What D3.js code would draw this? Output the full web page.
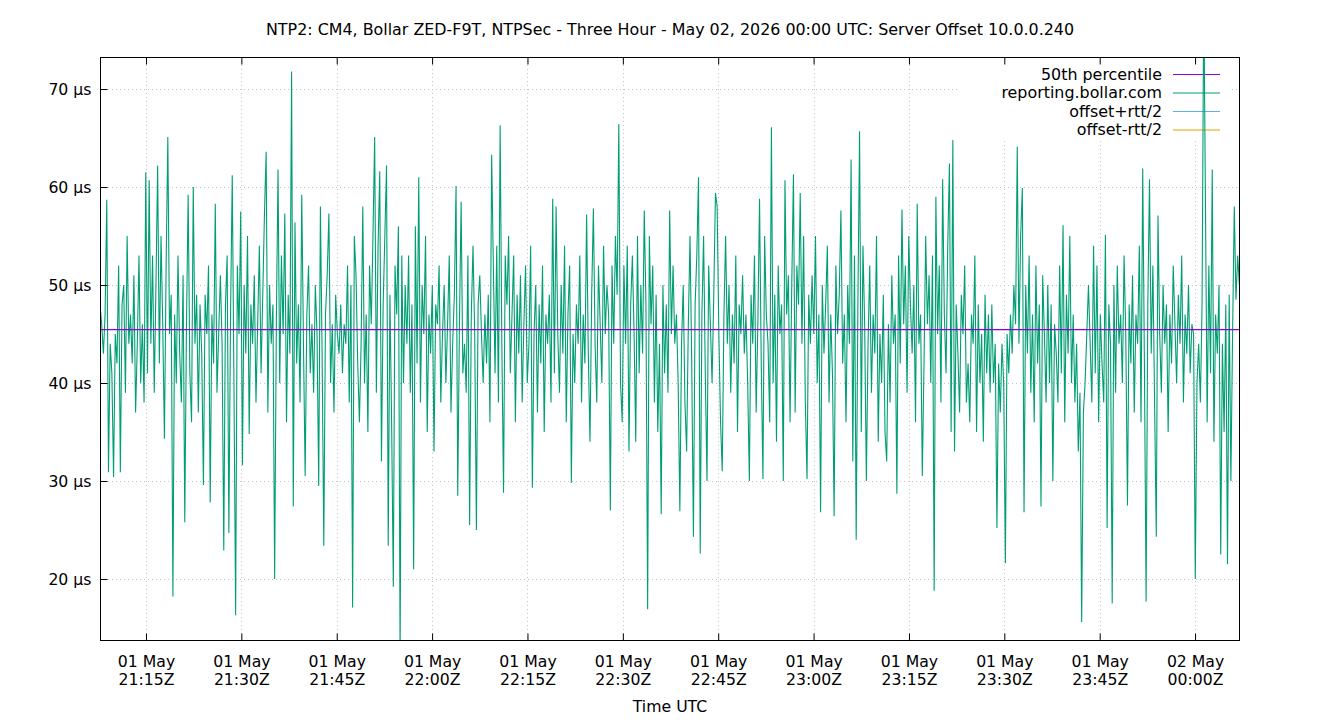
<!DOCTYPE html>
<html>
<head>
<meta charset="utf-8">
<script src="https://cdn.jsdelivr.net/npm/d3@7"></script>
<style>
  html, body { margin: 0; padding: 0; background: #fff; }
  svg text { font-family: "DejaVu Sans", sans-serif; fill: #000; }
</style>
</head>
<body>
<svg id="chart" width="1340" height="720"></svg>
<script>
// ---------- data ----------
const titleText = "NTP2: CM4, Bollar ZED-F9T, NTPSec - Three Hour - May 02, 2026 00:00 UTC: Server Offset 10.0.0.240";
const xAxisTitle = "Time UTC";
const startTime = "2026-05-01T21:07:46Z";
const endTime = "2026-05-02T00:07:04Z";
const sampleSeconds = 16;
const yTickValues = [20, 30, 40, 50, 60, 70];
const xTickTimes = ["2026-05-01T21:15:00Z","2026-05-01T21:30:00Z","2026-05-01T21:45:00Z","2026-05-01T22:00:00Z",
  "2026-05-01T22:15:00Z","2026-05-01T22:30:00Z","2026-05-01T22:45:00Z","2026-05-01T23:00:00Z",
  "2026-05-01T23:15:00Z","2026-05-01T23:30:00Z","2026-05-01T23:45:00Z","2026-05-02T00:00:00Z"];
const legendNames = ["50th percentile", "reporting.bollar.com", "offset+rtt/2", "offset-rtt/2"];
const legendColors = ["#9400d3", "#009e73", "#56b4e9", "#e69f00"];
const median50 = 45.45;
const yDomain = [13.67, 73.27];
// offset values (µs), one every sampleSeconds
const offsetValues = [
48,46,43,47,58.7,30.9,44,41,30.4,45,42,52,30.9,48,50,39,55,44,47,42,
51,37,44,53,40,46,38,61.5,41,60.7,44,53,39,50,62.2,42,55,46,34.3,52,
65.1,45,49,18.2,47,40,53,43,38,51,25.8,46,59.2,41,36,60,44,49,37,48,
43,29.6,49,45,52,27.8,47,42,58.3,39,45,51,44,22.9,48,53,24.7,47,61.2,40,
16.3,52,45,57.5,31.6,50,43,55,34.8,48,44,51,38,46,54,41,49,57.3,63.6,37,
50,44,48,20,46,61.8,40,53,45,57.3,36,49,43,71.8,27.4,56.4,42,48,38,59.2,
44,30.5,47,52,41,46,39,50,45,29.5,58,43,23.4,47,51,57.3,40,46,37,49,
45,43,48,41,46,44,52,38,50,17.1,55,51,42,36,44,58,40,47,35,52,
46,55,65.1,39,54,61.6,32,48,55,62.2,23.4,49,36,19.2,52,47,56,12,53,40,
50,44,53,39,48,21,56,42,61,38,50,45,55,35,47,43,50,33,48,46,
52,38,45,50,40,46,53,37,44,49,60.1,28.5,46,58.5,41,44,39,53,25.5,47,
54,45,25,48,51,45,40,47,42,49,36,63.3,52,41,54,38,66.3,44,28.8,53,
48,55,41,47,53,36,49,43,51,38,46,52,40,44,54,29.3,45,50,37,48,
42,52,35,47,44,49,38,58.8,41,58,45,39,50,43,54,36,47,52,29.8,45,
40,48,44,53,38,47,42,57.2,43,34,49,57.8,44,38,52,46,40,54,45,50,
47,27,52,44,55,49,66.4,40,36,52,44,54,33,48,53,45,34,55,41,50,
43,57.6,48,16.9,55,46,52,38,49,35,44,26.6,50,41,48,39,57.6,45,52,44,
47,40,26.9,44,50,38,33,46,55,42,24.3,48,53,61,22.6,47,55,41,30,52,
46,40,49,59.4,58,45,36,31,47,55,44,50,39,47,42,53,35,48,45,51,
43,47,40,30,49,44,53,37,46,58.8,42,30.2,55,47,44,36,66.1,40,49,34,
52,45,48,30,60.7,47,51,36,50,61.3,37,52,48,59.4,44,55,38,30.2,49,44,
51,45,55,40,47,26.8,50,43,48,54,38,47,41,26.4,52,45,49,57.6,42,47,
36,50,44,62.8,32,53,24,48,65.7,35,54,46,30,44,52,39,47,43,55,34,
45,40,49,35,32,46,38,51,44,47,28.7,53,42,57.7,46,52,39,55,48,43,
50,36,58.3,44,47,30.5,42,55,46,51,40,53,18.8,59,45,52,38,60.8,47,41,
54,62.4,35,64.8,33,48,43,37,49,45,52,38,42,36,47,44,53,35,48,40,
45,34,49,41,47,39,48,40,44,25.2,42,37,44,40,21.6,45,41,47,43,50,
46,64.1,44,55,59.9,26.8,50,43,53,39,47,36,52,42,48,27.4,51,45,38,50,
40,48,30,46,43,38,52,41,56.1,36,49,43,55,40,47,38,44,33,39,15.6,
37,40,45,50,44,38,54,41,52,36,47,42,38,55.1,25.2,48,44,17.5,50,39,
52,44,47,40,53,45,27.5,48,42,51,37,47,44,54,36,61.9,42,17.7,48,60.8,
43,52,38,24.3,57.1,45,39,50,44,48,35,47,42,52,46,40,49,44,53,38,
47,43,50,41,46,45,20,40,44,38,48,80,58.3,36,52,41,61.8,34,47,43,
50,22.5,44,35,48,21.5,49,30,45,58,48.5,53,50
];

// ---------- layout ----------
const margin = { left: 100, right: 1240, top: 57, bottom: 641 };
const svg = d3.select("#chart");

const t0 = new Date(startTime);
const points = offsetValues.map((v, i) => ({ t: new Date(t0.getTime() + i * sampleSeconds * 1000), v }));

const x = d3.scaleUtc().domain([new Date(startTime), new Date(endTime)]).range([margin.left, margin.right]);
const y = d3.scaleLinear().domain(yDomain).range([margin.bottom, margin.top]);
const xTicks = xTickTimes.map(s => new Date(s));

// grid
const grid = svg.append("g").attr("stroke", "#c4c4c4").attr("stroke-width", 1).attr("stroke-dasharray", "1,3");
grid.selectAll("line.gy").data(yTickValues).join("line")
  .attr("x1", margin.left).attr("x2", margin.right)
  .attr("y1", d => Math.round(y(d)) + 0.5).attr("y2", d => Math.round(y(d)) + 0.5);
grid.selectAll("line.gx").data(xTicks).join("line")
  .attr("y1", margin.top).attr("y2", margin.bottom)
  .attr("x1", d => Math.round(x(d)) + 0.5).attr("x2", d => Math.round(x(d)) + 0.5);

// legend background (opaque key)
svg.append("rect").attr("x", 958).attr("y", 60).attr("width", 272).attr("height", 78).attr("fill", "#fff");

// clip
svg.append("clipPath").attr("id", "plotclip").append("rect")
  .attr("x", margin.left).attr("y", margin.top)
  .attr("width", margin.right - margin.left).attr("height", margin.bottom - margin.top);

// legend
const legend = svg.append("g");
legendNames.forEach((name, i) => {
  const ly = 74 + i * 18.5;
  legend.append("text").attr("x", 1162).attr("y", ly).attr("dy", "0.35em")
    .attr("text-anchor", "end").attr("font-size", "15.9px").text(name);
  legend.append("line").attr("x1", 1173).attr("x2", 1220).attr("y1", ly + 0.5).attr("y2", ly + 0.5)
    .attr("stroke", legendColors[i]).attr("stroke-width", 1.2);
});

// data line
const line = d3.line().x(d => x(d.t)).y(d => y(d.v));
svg.append("path").datum(points)
  .attr("clip-path", "url(#plotclip)")
  .attr("fill", "none").attr("stroke", legendColors[1]).attr("stroke-width", 1.1)
  .attr("stroke-linejoin", "miter")
  .attr("d", line);

// median line
svg.append("line")
  .attr("x1", margin.left).attr("x2", margin.right)
  .attr("y1", y(median50)).attr("y2", y(median50))
  .attr("stroke", legendColors[0]).attr("stroke-width", 1.2);

// frame
svg.append("rect").attr("x", margin.left + 0.5).attr("y", margin.top + 0.5)
  .attr("width", margin.right - margin.left - 1).attr("height", margin.bottom - margin.top - 1)
  .attr("fill", "none").attr("stroke", "#000").attr("stroke-width", 1);

// y axis (ticks inward)
const yAxis = d3.axisLeft(y).tickValues(yTickValues).tickSize(-7).tickPadding(9)
  .tickFormat(d => d + " µs");
const gy = svg.append("g").attr("transform", `translate(${margin.left + 0.5},0)`).call(yAxis);
gy.select(".domain").remove();
gy.selectAll("text").attr("font-size", "15.7px").attr("font-family", "DejaVu Sans, sans-serif").attr("fill", "#000");
gy.selectAll("line").attr("stroke", "#000");

// x axis bottom (ticks inward)
const xAxis = d3.axisBottom(x).tickValues(xTicks).tickSize(-7).tickPadding(14).tickFormat(() => "");
const gx = svg.append("g").attr("transform", `translate(0,${margin.bottom - 0.5})`).call(xAxis);
gx.select(".domain").remove();
gx.selectAll("line").attr("stroke", "#000");
const fmtDay = d3.utcFormat("%d %b");
const fmtTime = d3.utcFormat("%H:%MZ");
gx.selectAll(".tick").each(function(d) {
  const g = d3.select(this);
  g.select("text").remove();
  g.append("text").attr("y", 26).attr("text-anchor", "middle").attr("font-size", "15.7px").attr("fill", "#000")
    .attr("font-family", "DejaVu Sans, sans-serif").text(fmtDay(d));
  g.append("text").attr("y", 44).attr("text-anchor", "middle").attr("font-size", "15.7px").attr("fill", "#000")
    .attr("font-family", "DejaVu Sans, sans-serif").text(fmtTime(d));
});

// x axis top mirror ticks
const xTop = d3.axisTop(x).tickValues(xTicks).tickSize(-7).tickFormat(() => "");
const gxt = svg.append("g").attr("transform", `translate(0,${margin.top + 0.5})`).call(xTop);
gxt.select(".domain").remove();
gxt.selectAll("line").attr("stroke", "#000");

// titles
svg.append("text").attr("x", 670).attr("y", 34.5).attr("text-anchor", "middle")
  .attr("font-size", "15.9px").text(titleText);
svg.append("text").attr("x", 670).attr("y", 712).attr("text-anchor", "middle")
  .attr("font-size", "15.7px").text(xAxisTitle);
</script>
</body>
</html>
